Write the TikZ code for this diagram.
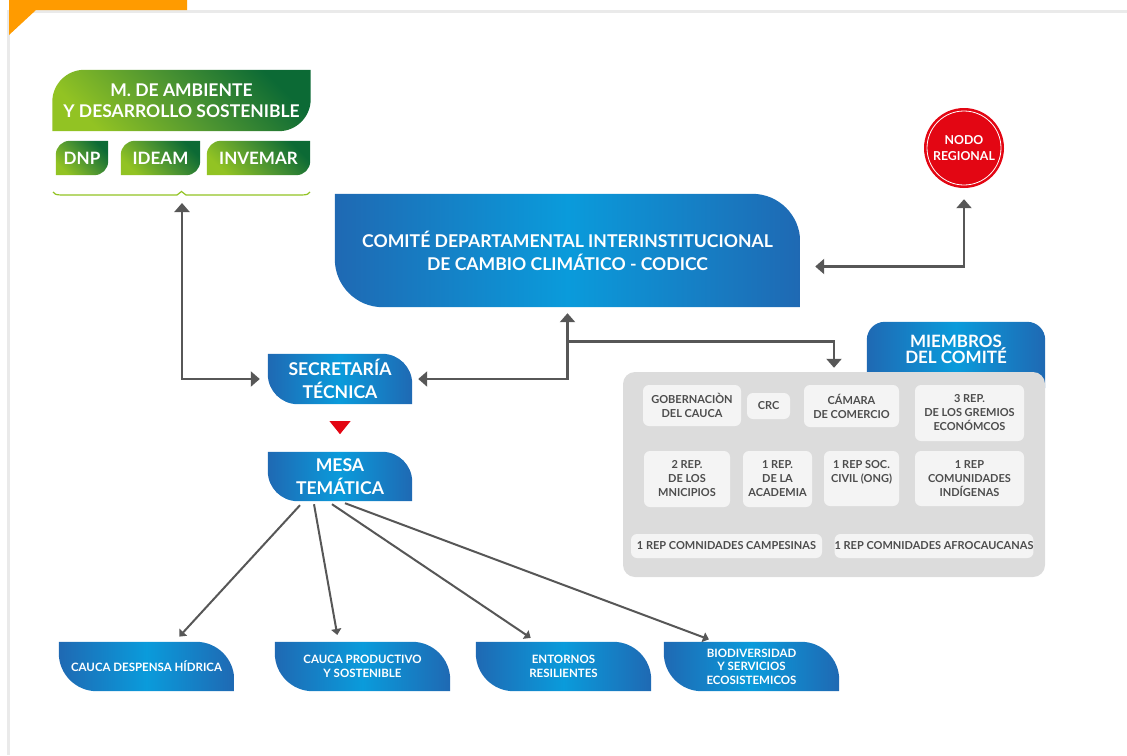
\documentclass[tikz,border=0pt]{standalone}
\usepackage{fontspec}
\setmainfont{Lato}
\usetikzlibrary{positioning,calc,arrows.meta,backgrounds}
\definecolor{bluedark}{HTML}{1F69B3}
\definecolor{bluelight}{HTML}{0A9BDB}
\definecolor{greendark}{HTML}{0C6A35}
\definecolor{greenmid}{HTML}{4F9631}
\definecolor{greenlight}{HTML}{92C323}
\definecolor{arrowgray}{HTML}{575757}
\definecolor{panelgray}{HTML}{DCDCDC}
\definecolor{cellgray}{HTML}{F4F4F4}
\definecolor{textgray}{HTML}{4D4D4D}
\definecolor{nodored}{HTML}{E30613}
\definecolor{orangetab}{HTML}{FF9B00}
\definecolor{rulegray}{HTML}{EAEAEA}

\tikzset{
  bluebox/.style={inner sep=0pt, align=center, text=white, font=\bfseries\fontsize{17.6}{23}\selectfont},
  greenbox/.style={inner sep=0pt, align=center, text=white, font=\bfseries\fontsize{17}{21}\selectfont},
  topic/.style={bluebox, minimum width=175pt, minimum height=49pt, font=\bfseries\fontsize{11.5}{13.5}\selectfont},
  cell/.style={fill=cellgray, rounded corners=6pt, inner sep=0pt, align=center, text=textgray, font=\bfseries\fontsize{11}{14}\selectfont},
  conn/.style={draw=arrowgray, line width=2.7pt, >={Triangle[width=15pt,length=9pt]}},
  fan/.style={draw=arrowgray, line width=2pt, ->, >={Triangle[width=10pt,length=6pt]}, shorten >=7pt}
}

% box with round top right and bottom left corner
\newcommand{\blueleaf}[2]{%
  \shade[left color=bluedark, right color=bluedark, middle color=bluelight]
    (#1.north west) -- ([xshift=-#2]#1.north east)
    arc[start angle=90, end angle=0, radius=#2] -- (#1.south east)
    -- ([xshift=#2]#1.south west)
    arc[start angle=270, end angle=180, radius=#2] -- cycle;}
% box with round top left and bottom right corner
\newcommand{\greenleaf}[2]{%
  \shade[bottom color=greenlight, top color=greendark, middle color=greenmid, shading angle=-45]
    ([yshift=-#2]#1.north west) arc[start angle=180, end angle=90, radius=#2]
    -- (#1.north east) -- ([yshift=#2]#1.south east)
    arc[start angle=0, end angle=-90, radius=#2] -- (#1.south west) -- cycle;}

\begin{document}
\begin{tikzpicture}[x=1pt, y=1pt]
  \useasboundingbox (0,0) rectangle (1127,-755);
  % page frame
  \fill[rulegray] (9,-10) rectangle (1127,-13);
  \fill[rulegray] (7,-10) rectangle (9.5,-755);
  \fill[orangetab] (9,0) -- (187,0) -- (187,-10) -- (36,-10) -- (9,-35) -- cycle;

  % ministry group
  \node[greenbox, minimum width=258pt, minimum height=61pt, font=\bfseries\fontsize{17.5}{21}\selectfont] (minamb) at (181.5,-100.5) {M. DE AMBIENTE\\Y DESARROLLO SOSTENIBLE};
  \node[greenbox, minimum width=52pt, minimum height=34pt] (dnp) at (82,-158) {DNP};
  \node[greenbox, minimum width=79pt, minimum height=34pt] (ideam) at (160.5,-158) {IDEAM};
  \node[greenbox, minimum width=103pt, minimum height=34pt] (invemar) at (258.5,-158) {INVEMAR};
  \draw[greenlight, line width=1.2pt] (53,-192) .. controls (54,-194) and (56,-195) .. (62,-195) -- (177,-195) -- (181.5,-191.5) -- (186,-195) -- (301,-195) .. controls (307,-195) and (309,-194) .. (310,-192);
  \coordinate (gtip) at (182,-203);

  \node[bluebox, minimum width=465pt, minimum height=113pt] (codicc) at (567.5,-250.5) {COMITÉ DEPARTAMENTAL INTERINSTITUCIONAL\\DE CAMBIO CLIMÁTICO - CODICC};
  \node[circle, fill=nodored, minimum size=80pt, inner sep=0pt, align=center, text=white, font=\bfseries\fontsize{12.3}{16}\selectfont] (nodo) at (964,-148) {NODO\\REGIONAL};
  \draw[white, line width=0.8pt] (nodo.center) circle[radius=37pt];

  \node[bluebox, minimum width=144pt, minimum height=50pt] (sec) at (340,-379) {SECRETARÍA\\TÉCNICA};
  \node[bluebox, minimum width=144pt, minimum height=49pt] (mesa) at (340,-476.5) {MESA\\TEMÁTICA};
  \fill[nodored] ($(sec.south)+(-10.5,-17)$) -- ++(21,0) -- ($(sec.south)+(0,-30)$) -- cycle;

  \node[topic] (t1) at (146.5,-666.5) {CAUCA DESPENSA HÍDRICA};
  \node[topic] (t2) at (362.5,-666.5) {CAUCA PRODUCTIVO\\Y SOSTENIBLE};
  \node[topic] (t3) at (563.5,-666.5) {ENTORNOS\\RESILIENTES};
  \node[topic] (t4) at (751.5,-666.5) {BIODIVERSIDAD\\Y SERVICIOS\\ECOSISTEMICOS};

  % committee members
  \node[bluebox, minimum width=178pt, minimum height=54pt, font=\bfseries\fontsize{17}{16}\selectfont] (miembros) at (956,-349) {MIEMBROS\\DEL COMITÉ};
  \node[fill=panelgray, rounded corners=12pt, minimum width=422pt, minimum height=205pt] (panel) at (834,-474.5) {};
  \node[cell, minimum width=98pt, minimum height=41pt] (gob) at (692,-405.5) {GOBERNACIÒN\\DEL CAUCA};
  \node[cell, minimum width=43pt, minimum height=26pt] (crc) at (768.5,-406) {CRC};
  \node[cell, minimum width=95pt, minimum height=42pt] (camara) at (851.5,-406) {CÁMARA\\DE COMERCIO};
  \node[cell, minimum width=109pt, minimum height=56pt] (gremios) at (969.5,-413) {3 REP.\\DE LOS GREMIOS\\ECONÓMCOS};
  \node[cell, minimum width=86pt, minimum height=56pt] (munic) at (687,-479) {2 REP.\\DE LOS\\MNICIPIOS};
  \node[cell, minimum width=69pt, minimum height=56pt] (acad) at (777.5,-479) {1 REP.\\DE LA\\ACADEMIA};
  \node[cell, minimum width=75pt, minimum height=55pt] (ong) at (861.5,-478.5) {1 REP SOC.\\CIVIL (ONG)\\\mbox{}};
  \node[cell, minimum width=109pt, minimum height=55pt] (indig) at (969.5,-478.5) {1 REP\\COMUNIDADES\\INDÍGENAS};
  \node[cell, minimum width=191pt, minimum height=24pt] (campes) at (726.5,-546) {1 REP COMNIDADES CAMPESINAS};
  \node[cell, minimum width=198pt, minimum height=24pt] (afro) at (934,-546) {1 REP COMNIDADES AFROCAUCANAS};

  \begin{scope}[on background layer]
    \greenleaf{minamb}{32pt}
    \foreach \n in {dnp,ideam,invemar}{\greenleaf{\n}{14pt}}
    \blueleaf{codicc}{48pt}
    \foreach \n in {sec,mesa}{\blueleaf{\n}{30pt}}
    \foreach \n in {t1,t2,t3,t4}{\blueleaf{\n}{38pt}}
    \shade[left color=bluedark, right color=bluedark, middle color=bluelight]
      ([yshift=-12]miembros.south west) -- ([yshift=-18]miembros.north west)
      arc[start angle=180, end angle=90, radius=18pt] -- ([xshift=-18]miembros.north east)
      arc[start angle=90, end angle=0, radius=18pt] -- ([yshift=-12]miembros.south east) -- cycle;
  \end{scope}

  % connectors
  \draw[conn, <->, shorten >=8pt] (gtip) |- (sec.west);
  \draw[conn, <->, shorten <=6pt, shorten >=6pt] (sec.east) -| (codicc.south);
  \coordinate (split) at ($(codicc.south)+(0,-34)$);
  \draw[conn, ->, shorten >=4pt] (split) -| (panel.north);
  \draw[conn, <->, shorten <=11pt, shorten >=15pt] (nodo.south) |- ([yshift=-16]codicc.east);

  \draw[fan] ([xshift=-40,yshift=-4]mesa.south) -- ([xshift=28]t1.north);
  \draw[fan] ([xshift=-26,yshift=-3]mesa.south) -- ([xshift=-24]t2.north);
  \draw[fan] ([xshift=-8,yshift=-3]mesa.south) -- ([xshift=-27]t3.north);
  \draw[fan] ([xshift=5,yshift=-2]mesa.south) -- ([xshift=-36]t4.north);
\end{tikzpicture}
\end{document}
